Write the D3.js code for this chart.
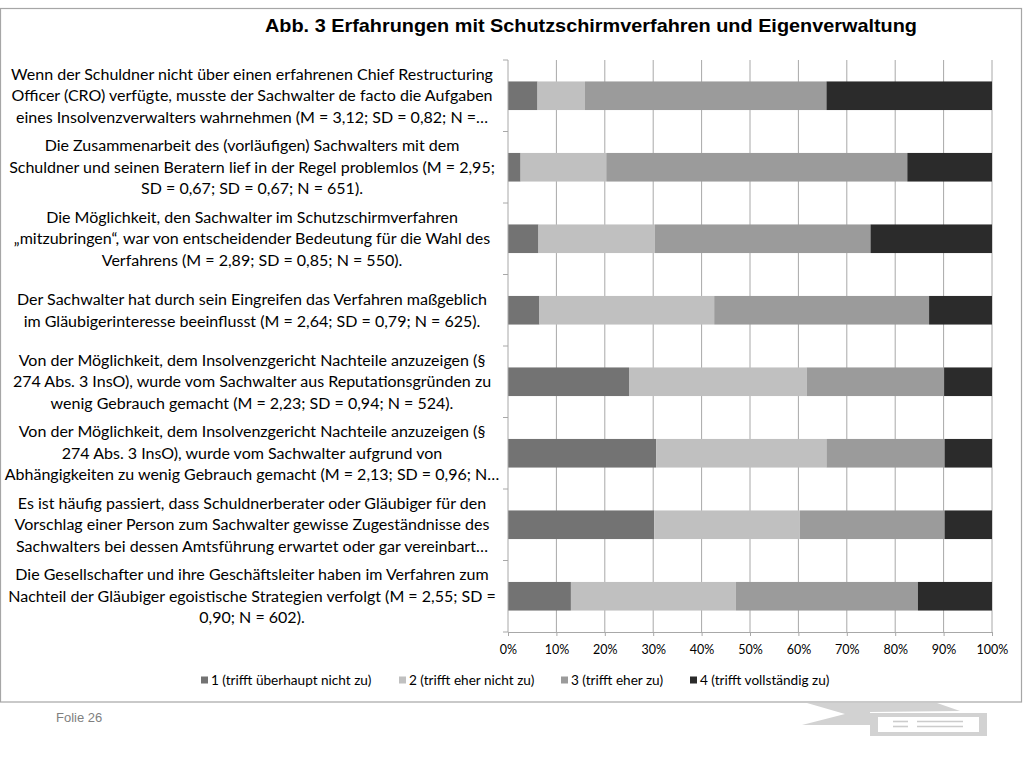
<!DOCTYPE html>
<html>
<head>
<meta charset="utf-8">
<script src="https://cdn.jsdelivr.net/npm/d3@7"></script>
<style>
  html, body { margin: 0; padding: 0; background: #fff; }
  svg { display: block; }
</style>
</head>
<body>
<svg id="chart" width="1024" height="768"></svg>
<script>
// ---------- data ----------
const title = "Abb. 3 Erfahrungen mit Schutzschirmverfahren und Eigenverwaltung";
const categories = [
  ["Wenn der Schuldner nicht über einen erfahrenen Chief Restructuring",
   "Officer (CRO) verfügte, musste der Sachwalter de facto die Aufgaben",
   "eines Insolvenzverwalters wahrnehmen (M = 3,12; SD = 0,82; N =…"],
  ["Die Zusammenarbeit des (vorläufigen) Sachwalters mit dem",
   "Schuldner und seinen Beratern lief in der Regel problemlos (M = 2,95;",
   "SD = 0,67; SD = 0,67; N = 651)."],
  ["Die Möglichkeit, den Sachwalter im Schutzschirmverfahren",
   "„mitzubringen“, war von entscheidender Bedeutung für die Wahl des",
   "Verfahrens (M = 2,89; SD = 0,85; N = 550)."],
  ["Der Sachwalter hat durch sein Eingreifen das Verfahren maßgeblich",
   "im Gläubigerinteresse beeinflusst (M = 2,64; SD = 0,79; N = 625)."],
  ["Von der Möglichkeit, dem Insolvenzgericht Nachteile anzuzeigen (§",
   "274 Abs. 3 InsO), wurde vom Sachwalter aus Reputationsgründen zu",
   "wenig Gebrauch gemacht (M = 2,23; SD = 0,94; N = 524)."],
  ["Von der Möglichkeit, dem Insolvenzgericht Nachteile anzuzeigen (§",
   "274 Abs. 3 InsO), wurde vom Sachwalter aufgrund von",
   "Abhängigkeiten zu wenig Gebrauch gemacht (M = 2,13; SD = 0,96; N…"],
  ["Es ist häufig passiert, dass Schuldnerberater oder Gläubiger für den",
   "Vorschlag einer Person zum Sachwalter gewisse Zugeständnisse des",
   "Sachwalters bei dessen Amtsführung erwartet oder gar vereinbart…"],
  ["Die Gesellschafter und ihre Geschäftsleiter haben im Verfahren zum",
   "Nachteil der Gläubiger egoistische Strategien verfolgt (M = 2,55; SD =",
   "0,90; N = 602)."]
];
const seriesNames = ["1 (trifft überhaupt nicht zu)", "2 (trifft eher nicht zu)",
                     "3 (trifft eher zu)", "4 (trifft vollständig zu)"];
const s1 = [6.1, 2.6, 6.3, 6.5, 25.0, 30.6, 30.2, 13.0];
const s2 = [9.8, 17.7, 24.0, 36.1, 36.7, 35.2, 30.1, 34.1];
const s3 = [49.9, 62.2, 44.6, 44.4, 28.4, 24.4, 29.9, 37.6];
const s4 = [34.2, 17.5, 25.1, 13.0, 9.9, 9.8, 9.8, 15.3];
const xTicks = [0, 0.1, 0.2, 0.3, 0.4, 0.5, 0.6, 0.7, 0.8, 0.9, 1.0];
const footerText = "Folie 26";

// ---------- layout ----------
const colors = ["#737373", "#c0c0c0", "#9b9b9b", "#2b2b2b"];
const svg = d3.select("#chart");
const plot = { left: 508, right: 992, top: 60, bottom: 632 };
const labelFont = "Lato, 'Open Sans', sans-serif";

// outer frame
svg.append("rect").attr("x", 0.5).attr("y", 8.5).attr("width", 1021).attr("height", 693.5)
  .attr("fill", "#fff").attr("stroke", "#a6a6a6").attr("stroke-width", 1.2);

// title
svg.append("text").attr("x", 265).attr("y", 32)
  .attr("font-family", "'Liberation Sans', Arial, sans-serif")
  .attr("font-weight", "bold").attr("font-size", 18.5).attr("fill", "#000")
  .attr("textLength", 652).attr("lengthAdjust", "spacingAndGlyphs")
  .text(title);

const rows = categories.map((c, i) => ({ idx: i, v: [s1[i], s2[i], s3[i], s4[i]] }));
const keys = [0, 1, 2, 3];
const stack = d3.stack().keys(keys).value((d, k) => d.v[k] / 100);
const stacked = stack(rows);

const x = d3.scaleLinear().domain([0, 1]).range([plot.left, plot.right]);
const y = d3.scaleBand().domain(d3.range(categories.length)).range([plot.top, plot.bottom])
  .paddingInner(0.6).paddingOuter(0.3);

// gridlines
svg.append("g").selectAll("line").data(xTicks.slice(1)).join("line")
  .attr("x1", d => x(d)).attr("x2", d => x(d))
  .attr("y1", plot.top).attr("y2", plot.bottom)
  .attr("stroke", "#a8a8a8").attr("stroke-width", 1);

// bars
svg.append("g").selectAll("g").data(stacked).join("g")
  .attr("fill", (d, i) => colors[i])
  .selectAll("rect").data(d => d).join("rect")
  .attr("x", d => x(d[0])).attr("width", d => x(d[1]) - x(d[0]))
  .attr("y", d => y(d.data.idx)).attr("height", y.bandwidth());

// x axis
const xAxis = svg.append("g").attr("transform", `translate(0,${plot.bottom})`)
  .call(d3.axisBottom(x).tickValues(xTicks).tickFormat(d3.format(".0%")).tickSize(4).tickSizeOuter(0).tickPadding(9));
xAxis.select(".domain").attr("stroke", "#a8a8a8");
xAxis.selectAll(".tick line").attr("stroke", "#a8a8a8");
xAxis.selectAll("text").attr("font-family", labelFont).attr("font-size", 12.5).attr("fill", "#000");

// y axis line + ticks at band boundaries
const yb = d3.scaleLinear().domain([0, categories.length]).range([plot.top, plot.bottom]);
svg.append("line").attr("x1", plot.left).attr("x2", plot.left)
  .attr("y1", plot.top).attr("y2", plot.bottom).attr("stroke", "#a8a8a8");
svg.append("g").selectAll("line").data(d3.range(categories.length + 1)).join("line")
  .attr("x1", plot.left - 5).attr("x2", plot.left)
  .attr("y1", d => yb(d)).attr("y2", d => yb(d)).attr("stroke", "#a8a8a8");

// category labels
const lineH = 21.5;
const labelG = svg.append("g").attr("font-family", labelFont).attr("fill", "#000")
  .attr("text-anchor", "middle");
let fontSize = 15;
labelG.selectAll("text").data(categories).join("text")
  .attr("x", 252)
  .attr("font-size", fontSize)
  .each(function (lines, i) {
    const cy = y(i) + y.bandwidth() / 2;
    const t = d3.select(this);
    const n = lines.length;
    lines.forEach((ln, j) => {
      t.append("tspan").attr("x", 252)
        .attr("y", cy + (j - (n - 1) / 2) * lineH)
        .attr("dy", "0.35em").text(ln);
    });
  });
// fit font size so the first line matches the reference width (~482px)
const firstSpan = labelG.select("text").select("tspan").node();
const w0 = firstSpan.getComputedTextLength();
fontSize = fontSize * 482 / w0;
labelG.selectAll("text").attr("font-size", fontSize);

// legend
const legendItems = [
  { sq: 201, tx: 211 }, { sq: 399, tx: 409 }, { sq: 561, tx: 571 }, { sq: 690, tx: 700 }
];
const lg = svg.append("g");
lg.selectAll("rect").data(seriesNames).join("rect")
  .attr("x", (d, i) => legendItems[i].sq).attr("y", 676.5).attr("width", 7).attr("height", 7)
  .attr("fill", (d, i) => colors[i]);
lg.selectAll("text").data(seriesNames).join("text")
  .attr("x", (d, i) => legendItems[i].tx).attr("y", 680).attr("dy", "0.35em")
  .attr("font-family", labelFont).attr("font-size", 13.6).attr("fill", "#000")
  .text(d => d);

// footer
svg.append("text").attr("x", 56).attr("y", 722)
  .attr("font-family", "'Liberation Sans', Arial, sans-serif").attr("font-size", 13)
  .attr("fill", "#7f7f7f").text(footerText);
const fg = svg.append("g");
fg.append("path").attr("d", "M807,703 L937,703 L960,711 L870,712 L870,725 L802,725 L845,714 Z")
  .attr("fill", "#d2d2d2");
fg.append("rect").attr("x", 870).attr("y", 713).attr("width", 117).attr("height", 23).attr("fill", "#d2d2d2");
fg.append("rect").attr("x", 878).attr("y", 717).attr("width", 101).attr("height", 15).attr("fill", "#fff");
[[893, 908, 721.5], [893, 908, 726.5], [917, 963, 721.5], [917, 963, 726.5]].forEach(l => {
  fg.append("line").attr("x1", l[0]).attr("x2", l[1]).attr("y1", l[2]).attr("y2", l[2])
    .attr("stroke", "#cccccc").attr("stroke-width", 1.6);
});
</script>
</body>
</html>
